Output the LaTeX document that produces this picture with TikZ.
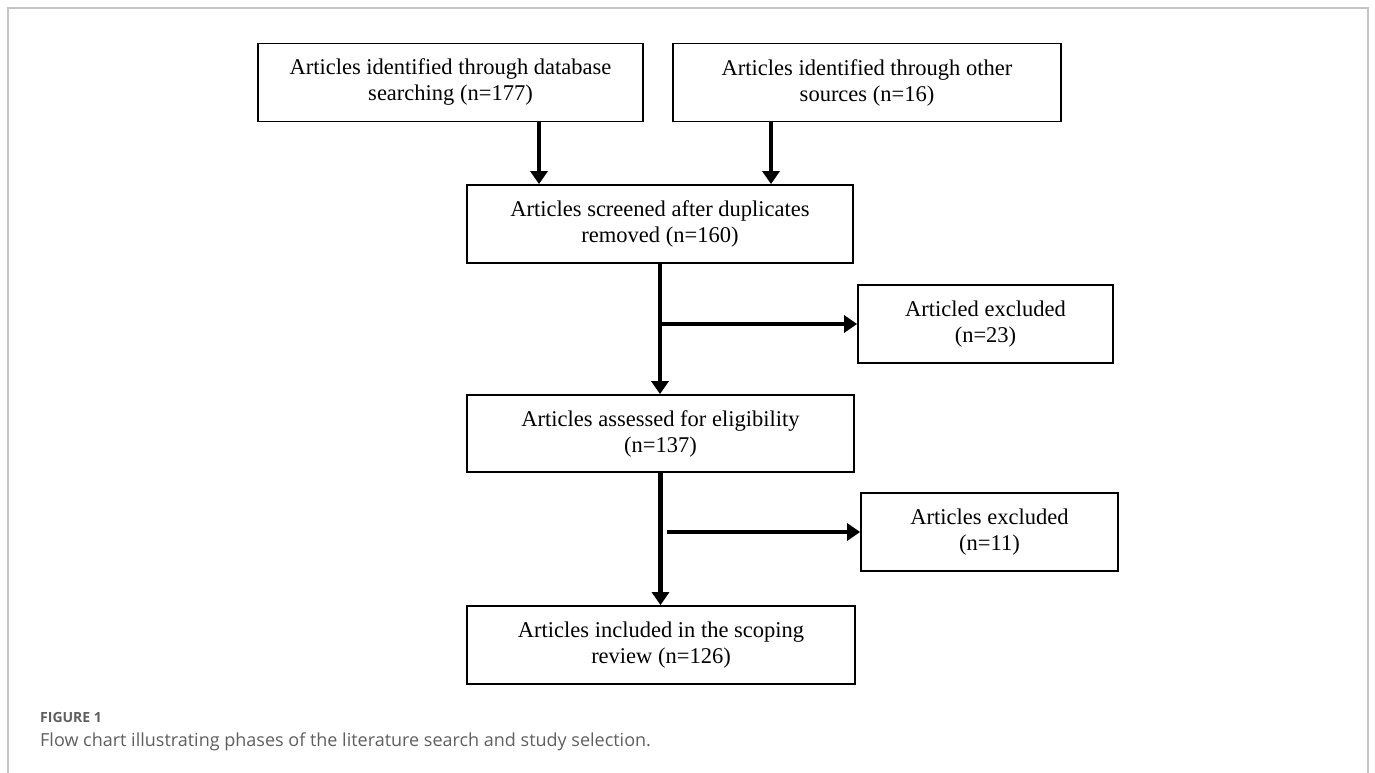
\documentclass[tikz,border=0pt]{standalone}
\usepackage{fontspec}
\setmainfont{Liberation Serif}
\newfontfamily\captionfont{Open Sans}
\usetikzlibrary{arrows.meta}
\definecolor{framegray}{HTML}{C4C4C4}
\definecolor{captiongray}{HTML}{5F5F5F}
\tikzset{
	flowbox/.style={draw=black, line width=1.8pt, minimum height=78pt, align=center, inner sep=0pt, font=\fontsize{22.5}{26}\selectfont},
	flowarrow/.style={line width=4.3pt, -{Triangle[length=13pt,width=17pt]}},
	captiontext/.style={anchor=base west, inner sep=0pt, text=captiongray}
}

\begin{document}
\begin{tikzpicture}[x=1pt,y=-1pt]
		%%%%% START %%%%%
		\useasboundingbox (0,0) rectangle (1375,773);
		\draw[framegray, line width=1.5pt] (8,773) -- (8,8) -- (1368,8) -- (1368,773);
		
		\node[flowbox, minimum width=385pt] (database) at (450.5,82.5) {Articles identified through database\\searching (n=177)};
		\node[flowbox, minimum width=388pt] (others) at (867,82.5) {Articles identified through other\\sources (n=16)};
		\node[flowbox, minimum width=386pt] (screened) at (660,224) {Articles screened after duplicates\\removed (n=160)};
		\node[flowbox, minimum width=255pt] (excluded1) at (985.5,324) {Articled excluded\\(n=23)};
		\node[flowbox, minimum width=387pt, minimum height=77pt] (assessed) at (660.5,433.5) {Articles assessed for eligibility\\(n=137)};
		\node[flowbox, minimum width=257pt] (excluded2) at (989.5,532) {Articles excluded\\(n=11)};
		\node[flowbox, minimum width=388pt] (included) at (661,645) {Articles included in the scoping\\review (n=126)};
		
		\draw[flowarrow] ([xshift=88.5pt]database.south) -- ([xshift=88.5pt]database.south |- screened.north);
		\draw[flowarrow] ([xshift=-96pt]others.south) -- ([xshift=-96pt]others.south |- screened.north);
		\draw[flowarrow] (screened.south) -- (screened.south |- assessed.north);
		\draw[flowarrow] (screened.south |- excluded1.west) -- (excluded1.west);
		\draw[flowarrow] (assessed.south) -- (assessed.south |- included.north);
		\draw[flowarrow] ([xshift=6pt]assessed.south |- excluded2.west) -- (excluded2.west);
		
		\node[captiontext, font=\captionfont\bfseries\fontsize{14}{16}\selectfont] (figlabel) at (40,722) {FIGURE 1};
		\node[captiontext, font=\captionfont\fontsize{18}{22}\selectfont] (figcaption) at (40,746) {Flow chart illustrating phases of the literature search and study selection.};
		%%%%% END %%%%%
	\end{tikzpicture}
\end{document}
